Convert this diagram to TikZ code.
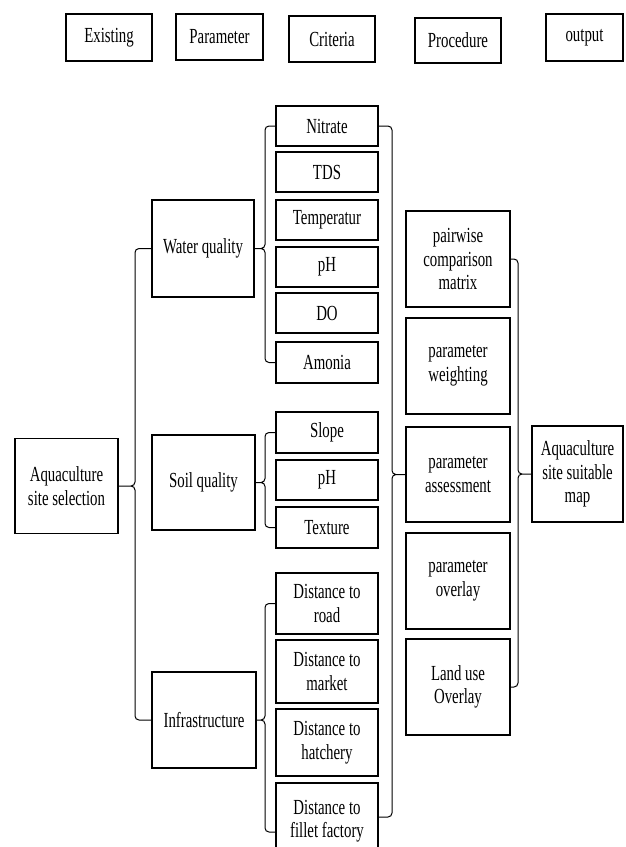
\documentclass[tikz,border=0pt]{standalone}
\usepackage{fontspec}
\setmainfont{Liberation Serif}[FakeStretch=0.69]
\usepackage{tikz}
\tikzstyle{box}=[rectangle, draw, line width=1.2pt, inner sep=0pt, align=center, font=\fontsize{21.5}{23.5}\selectfont]
\tikzstyle{head}=[box, minimum width=86pt, minimum height=46pt]
\tikzstyle{param}=[box, minimum width=103pt, minimum height=96pt]
\tikzstyle{crit}=[box, minimum width=102pt, minimum height=40pt]
\tikzstyle{proc}=[box, minimum width=104pt, minimum height=96pt]
\tikzstyle{brace}=[draw=black, line width=1pt, rounded corners=4pt]

\begin{document}
\begin{tikzpicture}[x=1pt,y=-1pt]
\useasboundingbox (0,0) rectangle (625,847);

%The headers
\draw (109,37.5) node[head, minimum height=47pt] (existing) {Existing};
\draw (219.5,37) node[head, minimum width=87pt] (parameter) {Parameter};
\draw (332,39) node[head] (criteria) {Criteria};
\draw (458,40.5) node[head, minimum height=45pt] (procedure) {Procedure};
\draw (584.5,37.5) node[head, minimum width=77pt, minimum height=47pt] (output) {output};

%The existing condition
\draw (66.5,486) node[param, minimum height=95pt] (aqua) {Aquaculture\\site selection};

%The parameters
\draw (203,248.5) node[param, minimum width=102pt, minimum height=97pt] (wq) {Water quality};
\draw (203.5,482.5) node[param, minimum height=95pt] (soil) {Soil quality};
\draw (204,720) node[param, minimum width=104pt] (infra) {Infrastructure};

%The water criteria
\draw (327,126) node[crit] (nitrate) {Nitrate};
\draw (327,172) node[crit] (tds) {TDS};
\draw (327,220) node[crit] (temp) {Temperatur};
\draw (327,267) node[crit] (phw) {pH};
\draw (327,313) node[crit] (do) {DO};
\draw (327,362.5) node[crit, minimum height=41pt] (amonia) {Amonia};

%The soil criteria
\draw (327,432.5) node[crit, minimum height=41pt] (slope) {Slope};
\draw (327,480) node[crit] (phs) {pH};
\draw (327,527.5) node[crit, minimum height=41pt] (texture) {Texture};

%The infrastructure criteria
\draw (327,603.5) node[crit, minimum height=61pt] (road) {Distance to\\road};
\draw (327,671.5) node[crit, minimum height=63pt] (market) {Distance to\\market};
\draw (327,742.5) node[crit, minimum height=67pt] (hatchery) {Distance to\\hatchery};
\draw (327,821) node[crit, minimum height=76pt] (fillet) {Distance to\\fillet factory};

%The procedure
\draw (458,259) node[proc] (pairwise) {pairwise\\comparison\\matrix};
\draw (458,366) node[proc] (weighting) {parameter\\weighting};
\draw (458,474.5) node[proc, minimum height=95pt] (assess) {parameter\\assessment};
\draw (458,581) node[proc] (overlay) {parameter\\overlay};
\draw (458,687) node[proc] (landuse) {Land use\\Overlay};

%The output
\draw (577.5,474) node[proc, minimum width=91pt] (map) {Aquaculture\\site suitable\\map};

%The braces
\coordinate (spA) at (135,0);
\coordinate (spB) at (265,0);
\coordinate (spE) at (392,0);
\coordinate (spF) at (518,0);
\draw[brace] (aqua.east) -- (aqua.east -| spA) -- (wq.west -| spA) -- (wq.west)
  (aqua.east) -- (aqua.east -| spA) -- (infra.west -| spA) -- (infra.west);
\draw[brace] (wq.east) -- (wq.east -| spB) -- (nitrate.west -| spB) -- (nitrate.west)
  (wq.east) -- (wq.east -| spB) -- (amonia.west -| spB) -- (amonia.west);
\draw[brace] (soil.east) -- (soil.east -| spB) -- (slope.west -| spB) -- (slope.west)
  (soil.east) -- (soil.east -| spB) -- (texture.west -| spB) -- (texture.west);
\draw[brace] (infra.east) -- (infra.east -| spB) -- (road.west -| spB) -- (road.west)
  (infra.east) -- (infra.east -| spB) -- ([yshift=-11pt]fillet.west -| spB) -- ([yshift=-11pt]fillet.west);
\draw[brace] (assess.west) -- (assess.west -| spE) -- (nitrate.east -| spE) -- (nitrate.east)
  (assess.west) -- (assess.west -| spE) -- ([yshift=4pt]fillet.east -| spE) -- ([yshift=4pt]fillet.east);
\draw[brace] (map.west) -- (map.west -| spF) -- (pairwise.east -| spF) -- (pairwise.east)
  (map.west) -- (map.west -| spF) -- (landuse.east -| spF) -- (landuse.east);
\end{tikzpicture}
\end{document}
